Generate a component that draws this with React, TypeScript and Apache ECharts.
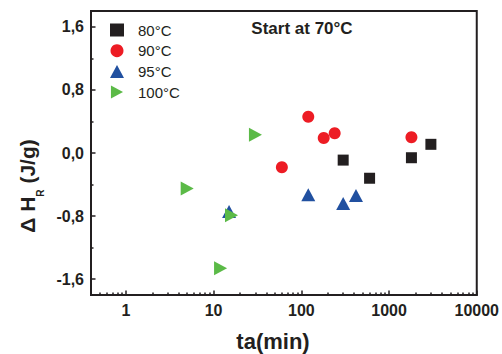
import React, { useEffect, useRef } from "react";
import * as echarts from "echarts";

const LEGEND_NAMES = ["80°C", "90°C", "95°C", "100°C"];
const T80_X = [300, 600, 1800, 3000];
const T80_Y = [-0.09, -0.32, -0.06, 0.11];
const T90_X = [60, 120, 180, 240, 1800];
const T90_Y = [-0.18, 0.46, 0.19, 0.25, 0.2];
const T95_X = [15, 120, 300, 420];
const T95_Y = [-0.74, -0.53, -0.64, -0.54];
const T100_X = [5, 12, 16, 30];
const T100_Y = [-0.45, -1.46, -0.79, 0.23];

const X_MAJOR_TICKS = [1, 10, 100, 1000, 10000];
const X_MINOR_TICKS = [
  0.5, 0.6, 0.7, 0.8, 0.9,
  2, 3, 4, 5, 6, 7, 8, 9,
  20, 30, 40, 50, 60, 70, 80, 90,
  200, 300, 400, 500, 600, 700, 800, 900,
  2000, 3000, 4000, 5000, 6000, 7000, 8000, 9000,
];
const Y_MAJOR_TICKS = [-1.6, -0.8, 0, 0.8, 1.6];
const Y_MINOR_TICKS = [-1.2, -0.4, 0.4, 1.2];

const X_MIN = 0.4;
const X_MAX = 10000;
const Y_MIN = -1.8;
const Y_MAX = 1.8;

const INK = "#231f20";
const FONT = "'Liberation Sans', Arial, Helvetica, sans-serif";

const pairs = (xs: number[], ys: number[]) => xs.map((x, i) => [x, ys[i]]);

export default function App() {
  const ref = useRef<HTMLDivElement>(null);
  useEffect(() => {
    if (!ref.current) return;
    const chart = echarts.init(ref.current, null, { renderer: "svg" });
    const axisBase = {
      axisLine: { show: true, onZero: false, lineStyle: { color: INK, width: 2 } },
      splitLine: { show: false },
    };
    const hiddenLine = { show: false, onZero: false };
    chart.setOption({
      animation: false,
      backgroundColor: "#ffffff",
      grid: {
        left: 91,
        right: 24,
        top: 11,
        bottom: 59,
        show: true,
        borderColor: INK,
        borderWidth: 2,
        backgroundColor: "transparent",
      },
      legend: {
        data: LEGEND_NAMES,
        orient: "vertical",
        left: 105,
        top: 17.5,
        itemWidth: 14,
        itemHeight: 13,
        itemGap: 5.7,
        symbolKeepAspect: true,
        selectedMode: false,
        textStyle: { color: INK, fontSize: 15, fontFamily: FONT, lineHeight: 13, padding: [0, 0, 0, 9] },
      },
      xAxis: [
        {
          ...axisBase,
          type: "log",
          logBase: 10,
          min: X_MIN,
          max: X_MAX,
          position: "bottom",
          axisTick: { show: true, inside: true, length: 4.5, customValues: X_MAJOR_TICKS, lineStyle: { color: INK, width: 1.5 } },
          axisLabel: {
            customValues: X_MAJOR_TICKS,
            margin: 7,
            color: INK,
            fontSize: 16,
            fontWeight: "bold",
            fontFamily: FONT,
            formatter: (v: number) => String(Math.round(v)),
          },
        },
        {
          type: "log",
          logBase: 10,
          min: X_MIN,
          max: X_MAX,
          position: "bottom",
          axisLine: hiddenLine,
          splitLine: { show: false },
          axisTick: { show: true, inside: true, length: 2.5, customValues: X_MINOR_TICKS, lineStyle: { color: INK, width: 1.5 } },
          axisLabel: { show: false },
        },
      ],
      yAxis: [
        {
          ...axisBase,
          type: "value",
          min: Y_MIN,
          max: Y_MAX,
          position: "left",
          axisTick: { show: true, inside: true, length: 4.5, customValues: Y_MAJOR_TICKS, lineStyle: { color: INK, width: 1.5 } },
          axisLabel: {
            customValues: Y_MAJOR_TICKS,
            margin: 7,
            color: INK,
            fontSize: 16,
            fontWeight: "bold",
            fontFamily: FONT,
            formatter: (v: number) => v.toFixed(1).replace(".", ","),
          },
        },
        {
          type: "value",
          min: Y_MIN,
          max: Y_MAX,
          position: "left",
          axisLine: hiddenLine,
          splitLine: { show: false },
          axisTick: { show: true, inside: true, length: 2.5, customValues: Y_MINOR_TICKS, lineStyle: { color: INK, width: 1.5 } },
          axisLabel: { show: false },
        },
      ],
      series: [
        {
          name: LEGEND_NAMES[0],
          type: "scatter",
          symbol: "rect",
          symbolSize: 11,
          itemStyle: { color: INK, opacity: 1 },
          data: pairs(T80_X, T80_Y),
        },
        {
          name: LEGEND_NAMES[1],
          type: "scatter",
          symbol: "circle",
          symbolSize: 12,
          itemStyle: { color: "#ed1c24", opacity: 1 },
          data: pairs(T90_X, T90_Y),
        },
        {
          name: LEGEND_NAMES[2],
          type: "scatter",
          symbol: "triangle",
          symbolSize: [14, 13],
          itemStyle: { color: "#2150a0", opacity: 1 },
          data: pairs(T95_X, T95_Y),
        },
        {
          name: LEGEND_NAMES[3],
          type: "scatter",
          symbol: "path://M0,0L0,14L13,7Z",
          symbolSize: [13, 14],
          itemStyle: { color: "#5bba47", opacity: 1 },
          data: pairs(T100_X, T100_Y),
        },
      ],
      graphic: [
        {
          type: "text",
          x: 302,
          y: 28,
          style: {
            text: "Start at 70°C",
            fill: INK,
            font: `bold 17px ${FONT}`,
            textAlign: "center",
            textVerticalAlign: "middle",
          },
        },
        {
          type: "text",
          x: 273,
          y: 341,
          style: {
            text: "ta(min)",
            fill: INK,
            font: `bold 22px ${FONT}`,
            textAlign: "center",
            textVerticalAlign: "middle",
          },
        },
        {
          type: "text",
          x: 27,
          y: 186,
          rotation: Math.PI / 2,
          style: {
            text: "{a|Δ H}{s|R}{a| (J/g)}",
            fill: INK,
            textAlign: "center",
            textVerticalAlign: "middle",
            rich: {
              a: { fontSize: 21, fontWeight: "bold", fontFamily: FONT, lineHeight: 21, fill: INK },
              s: { fontSize: 10, fontWeight: "bold", fontFamily: FONT, lineHeight: 10, padding: [26, 0, 0, 0], fill: INK },
            },
          },
        },
      ],
    });
    return () => chart.dispose();
  }, []);
  return (
    <div
      ref={ref}
      style={{ position: "fixed", left: 0, top: 0, width: 502, height: 354 }}
    />
  );
}
